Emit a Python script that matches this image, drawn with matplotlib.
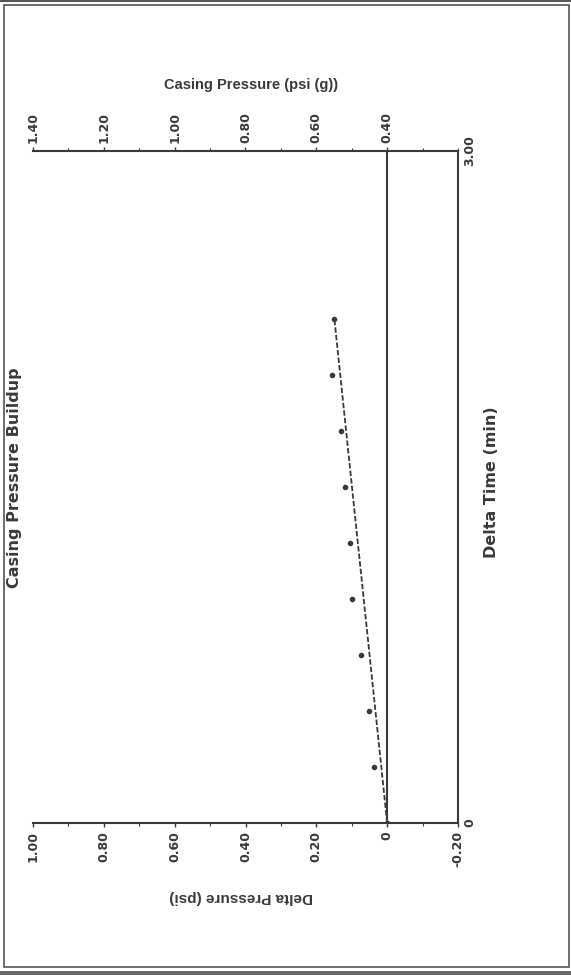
import numpy as np
import matplotlib
matplotlib.use("Agg")
import matplotlib.pyplot as plt
from matplotlib.ticker import FixedLocator, MultipleLocator
from matplotlib.patches import Rectangle
from matplotlib.lines import Line2D

# datos (tiempo en min, presion delta en psi)
time_min = [0.0, 0.25, 0.50, 0.75, 1.00, 1.25, 1.50, 1.75, 2.00, 2.25]
delta_psi = [0.0, 0.037, 0.051, 0.073, 0.099, 0.104, 0.118, 0.130, 0.155, 0.149]

delta_ticks = [1.00, 0.80, 0.60, 0.40, 0.20, 0.0, -0.20]
delta_labels = ["1.00", "0.80", "0.60", "0.40", "0.20", "0", "-0.20"]
casing_ticks = [1.40, 1.20, 1.00, 0.80, 0.60, 0.40]
casing_labels = ["1.40", "1.20", "1.00", "0.80", "0.60", "0.40"]
time_ticks = [0.0, 3.0]
time_labels = ["0", "3.00"]
casing_offset = 0.40

ink = "#3a3a3a"
W, H = 571, 975

fig = plt.figure(figsize=(W / 100, H / 100), dpi=100)
fig.patch.set_facecolor("white")

# la grafica original esta girada 90 grados: el tiempo va hacia arriba
ax = fig.add_axes([33 / W, 1 - 823 / H, (458 - 33) / W, (823 - 151) / H])
ax.set_xlim(1.0, -0.2)
ax.set_ylim(0, 3)
ax.set_facecolor("white")

for s in ["top", "bottom", "right"]:
    ax.spines[s].set_color(ink)
    ax.spines[s].set_linewidth(1.5)
ax.spines["left"].set_visible(False)

# linea de cero
ax.axvline(0, color=ink, lw=1.5)

# puntos y tendencia (del primer al ultimo punto)
ax.plot(delta_psi, time_min, "o", color=ink, ms=3.0, zorder=3)
ax.plot([delta_psi[0], delta_psi[-1]], [time_min[0], time_min[-1]],
        color=ink, lw=1.3, ls=(0, (3, 1.2)), zorder=3)

tick_font = dict(family="DejaVu Sans", fontweight="bold", fontsize=9, color=ink)

ax.xaxis.set_major_locator(FixedLocator(delta_ticks))
ax.set_xticklabels(delta_labels, rotation=90, **tick_font)
ax.xaxis.set_minor_locator(MultipleLocator(0.1))
ax.tick_params(axis="x", which="major", direction="out", length=3, width=1, color=ink, pad=3)
ax.tick_params(axis="x", which="minor", direction="out", length=2, width=0.8, color=ink)

ax.yaxis.tick_right()
ax.yaxis.set_major_locator(FixedLocator(time_ticks))
ax.set_yticklabels(time_labels, rotation=90, va="center", **tick_font)
ax.tick_params(axis="y", which="both", length=0, pad=4)

sec = ax.secondary_xaxis("top", functions=(lambda d: d + casing_offset, lambda c: c - casing_offset))
sec.xaxis.set_major_locator(FixedLocator(casing_ticks))
sec.set_xticklabels(casing_labels, rotation=90, **tick_font)
sec.xaxis.set_minor_locator(MultipleLocator(0.1))
sec.spines["top"].set_visible(False)
sec.tick_params(axis="x", which="major", direction="out", length=3, width=1, color=ink, pad=3)
sec.tick_params(axis="x", which="minor", direction="out", length=2, width=0.8, color=ink)

# titulos
fig.text(251 / W, 1 - 85 / H, "Casing Pressure (psi (g))", ha="center", va="center",
         family="Liberation Sans", fontweight="bold", fontsize=10.5, color=ink)
fig.text(241 / W, 1 - 897 / H, "Delta Pressure (psi)", ha="center", va="center", rotation=180,
         family="Liberation Sans", fontweight="bold", fontsize=11, color=ink)
fig.text(492 / W, 1 - 482 / H, "Delta Time (min)", ha="center", va="center", rotation=90,
         family="DejaVu Sans", fontweight="bold", fontsize=11.5, color=ink)
fig.text(15 / W, 1 - 478 / H, "Casing Pressure Buildup", ha="center", va="center", rotation=90,
         family="DejaVu Sans", fontweight="bold", fontsize=11.5, color=ink)

# marco
fig.patches.append(Rectangle((4 / W, 1 - 967 / H), (569 - 4) / W, (967 - 5) / H,
                             transform=fig.transFigure, fill=False, ec="#555555", lw=1.2))
fig.lines.append(Line2D([0, 1], [1 - 0.8 / H, 1 - 0.8 / H], transform=fig.transFigure,
                        color="#555555", lw=1.5))
fig.patches.append(Rectangle((0, 0), 1, 4 / H, transform=fig.transFigure,
                             fc="#6a6a6a", ec="none"))

fig.savefig("out.png", dpi=100)
